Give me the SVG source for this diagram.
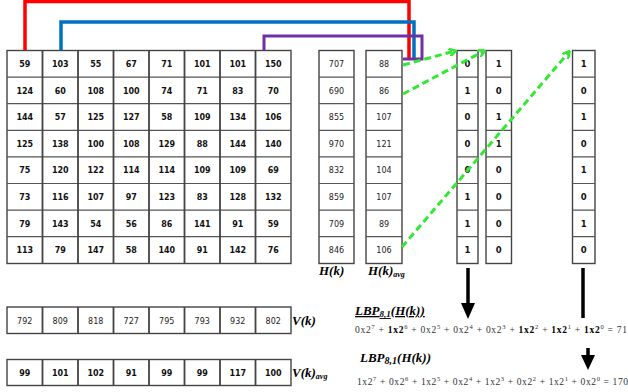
<svg xmlns="http://www.w3.org/2000/svg" width="628" height="392" viewBox="0 0 628 392">
<style>
.cell{fill:#fff;stroke:#444;stroke-width:1.4}
.n{font-family:"DejaVu Sans",sans-serif;font-size:8px;font-weight:bold;text-anchor:middle;fill:#111}
.h{font-family:"DejaVu Sans",sans-serif;font-size:8px;text-anchor:middle;fill:#222}
.b{font-family:"DejaVu Sans",sans-serif;font-size:8.5px;font-weight:bold;text-anchor:middle;fill:#111}
.lbl{font-family:"Liberation Serif",serif;font-style:italic;font-weight:bold;font-size:13px;fill:#000}
.f{font-family:"Liberation Serif",serif;font-size:9.5px;fill:#333}
.bold{font-weight:bold;fill:#000}
.sup{font-size:6.5px}
.grn{fill:none;stroke:#33e833;stroke-width:3;stroke-dasharray:7,4}
.blk{stroke:#000;stroke-width:3.5}
</style>
<defs>
<marker id="ga" markerWidth="8" markerHeight="8" refX="6" refY="4" orient="auto" markerUnits="userSpaceOnUse" viewBox="0 0 8 8">
<path d="M0,0 L7,4 L0,8" fill="none" stroke="#33e833" stroke-width="2.5"/>
</marker>
</defs>

<g id="grid">
<rect class="cell" x="7" y="50.5" width="284" height="213"/>
<path d="M7,77.1H291M7,103.7H291M7,130.3H291M7,156.9H291M7,183.5H291M7,210.1H291M7,236.7H291" stroke="#555" stroke-width="1.2"/>
<path d="M42.5,50.5V263.5M78,50.5V263.5M113.5,50.5V263.5M149,50.5V263.5M184.5,50.5V263.5M220,50.5V263.5M255.5,50.5V263.5" stroke="#444" stroke-width="1.8"/>
<g class="n">
<text x="24.75" y="67">59</text><text x="60.25" y="67">103</text><text x="95.75" y="67">55</text><text x="131.25" y="67">67</text><text x="166.75" y="67">71</text><text x="202.25" y="67">101</text><text x="237.75" y="67">101</text><text x="273.25" y="67">150</text>
<text x="24.75" y="93.6">124</text><text x="60.25" y="93.6">60</text><text x="95.75" y="93.6">108</text><text x="131.25" y="93.6">100</text><text x="166.75" y="93.6">74</text><text x="202.25" y="93.6">71</text><text x="237.75" y="93.6">83</text><text x="273.25" y="93.6">70</text>
<text x="24.75" y="120.2">144</text><text x="60.25" y="120.2">57</text><text x="95.75" y="120.2">125</text><text x="131.25" y="120.2">127</text><text x="166.75" y="120.2">58</text><text x="202.25" y="120.2">109</text><text x="237.75" y="120.2">134</text><text x="273.25" y="120.2">106</text>
<text x="24.75" y="146.8">125</text><text x="60.25" y="146.8">138</text><text x="95.75" y="146.8">100</text><text x="131.25" y="146.8">108</text><text x="166.75" y="146.8">129</text><text x="202.25" y="146.8">88</text><text x="237.75" y="146.8">144</text><text x="273.25" y="146.8">140</text>
<text x="24.75" y="173.4">75</text><text x="60.25" y="173.4">120</text><text x="95.75" y="173.4">122</text><text x="131.25" y="173.4">114</text><text x="166.75" y="173.4">114</text><text x="202.25" y="173.4">109</text><text x="237.75" y="173.4">109</text><text x="273.25" y="173.4">69</text>
<text x="24.75" y="200">73</text><text x="60.25" y="200">116</text><text x="95.75" y="200">107</text><text x="131.25" y="200">97</text><text x="166.75" y="200">123</text><text x="202.25" y="200">83</text><text x="237.75" y="200">128</text><text x="273.25" y="200">132</text>
<text x="24.75" y="226.6">79</text><text x="60.25" y="226.6">143</text><text x="95.75" y="226.6">54</text><text x="131.25" y="226.6">56</text><text x="166.75" y="226.6">86</text><text x="202.25" y="226.6">141</text><text x="237.75" y="226.6">91</text><text x="273.25" y="226.6">59</text>
<text x="24.75" y="253.2">113</text><text x="60.25" y="253.2">79</text><text x="95.75" y="253.2">147</text><text x="131.25" y="253.2">58</text><text x="166.75" y="253.2">140</text><text x="202.25" y="253.2">91</text><text x="237.75" y="253.2">142</text><text x="273.25" y="253.2">76</text>
</g>
</g>

<g id="hk">
<rect class="cell" x="319" y="50.5" width="35" height="213"/>
<path d="M319,77.1h35M319,103.7h35M319,130.3h35M319,156.9h35M319,183.5h35M319,210.1h35M319,236.7h35" stroke="#555" stroke-width="1.2"/>
<g class="h">
<text x="336.5" y="67">707</text><text x="336.5" y="93.6">690</text><text x="336.5" y="120.2">855</text><text x="336.5" y="146.8">970</text><text x="336.5" y="173.4">832</text><text x="336.5" y="200">859</text><text x="336.5" y="226.6">709</text><text x="336.5" y="253.2">846</text>
</g>
<text class="lbl" x="319" y="275">H(k)</text>
</g>

<g id="hkavg">
<rect class="cell" x="366" y="50.5" width="36" height="213"/>
<path d="M366,77.1h36M366,103.7h36M366,130.3h36M366,156.9h36M366,183.5h36M366,210.1h36M366,236.7h36" stroke="#555" stroke-width="1.2"/>
<g class="h">
<text x="384" y="67">88</text><text x="384" y="93.6">86</text><text x="384" y="120.2">107</text><text x="384" y="146.8">121</text><text x="384" y="173.4">104</text><text x="384" y="200">107</text><text x="384" y="226.6">89</text><text x="384" y="253.2">106</text>
</g>
<text class="lbl" x="368" y="275">H(k)<tspan font-size="8" dy="2">avg</tspan></text>
</g>

<g id="bin1">
<rect class="cell" x="457" y="50.5" width="21" height="213"/>
<path d="M457,77.1h21M457,103.7h21M457,130.3h21M457,156.9h21M457,183.5h21M457,210.1h21M457,236.7h21" stroke="#555" stroke-width="1.2"/>
<g class="b">
<text x="467.5" y="67">0</text><text x="467.5" y="93.6">1</text><text x="467.5" y="120.2">0</text><text x="467.5" y="146.8">0</text><text x="467.5" y="173.4">0</text><text x="467.5" y="200">1</text><text x="467.5" y="226.6">1</text><text x="467.5" y="253.2">1</text>
</g>
</g>

<g id="bin2">
<rect class="cell" x="486" y="50.5" width="25.5" height="213"/>
<path d="M486,77.1h25.5M486,103.7h25.5M486,130.3h25.5M486,156.9h25.5M486,183.5h25.5M486,210.1h25.5M486,236.7h25.5" stroke="#555" stroke-width="1.2"/>
<g class="b">
<text x="498.75" y="67">1</text><text x="498.75" y="93.6">0</text><text x="498.75" y="120.2">1</text><text x="498.75" y="146.8">1</text><text x="498.75" y="173.4">0</text><text x="498.75" y="200">0</text><text x="498.75" y="226.6">0</text><text x="498.75" y="253.2">0</text>
</g>
</g>

<g id="bin3">
<rect class="cell" x="572.5" y="50.5" width="22.5" height="213"/>
<path d="M572.5,77.1h22.5M572.5,103.7h22.5M572.5,130.3h22.5M572.5,156.9h22.5M572.5,183.5h22.5M572.5,210.1h22.5M572.5,236.7h22.5" stroke="#555" stroke-width="1.2"/>
<g class="b">
<text x="583.75" y="67">1</text><text x="583.75" y="93.6">0</text><text x="583.75" y="120.2">1</text><text x="583.75" y="146.8">0</text><text x="583.75" y="173.4">1</text><text x="583.75" y="200">0</text><text x="583.75" y="226.6">1</text><text x="583.75" y="253.2">0</text>
</g>
</g>

<g id="vk">
<rect class="cell" x="7" y="307" width="284" height="26.5"/>
<path d="M42.5,307v26.5M78,307v26.5M113.5,307v26.5M149,307v26.5M184.5,307v26.5M220,307v26.5M255.5,307v26.5" stroke="#444" stroke-width="1.8"/>
<g class="h">
<text x="24.75" y="323.5">792</text><text x="60.25" y="323.5">809</text><text x="95.75" y="323.5">818</text><text x="131.25" y="323.5">727</text><text x="166.75" y="323.5">795</text><text x="202.25" y="323.5">793</text><text x="237.75" y="323.5">932</text><text x="273.25" y="323.5">802</text>
</g>
<text class="lbl" x="292" y="325">V(k)</text>
</g>

<g id="vkavg">
<rect class="cell" x="7" y="359.5" width="284" height="26"/>
<path d="M42.5,359.5v26M78,359.5v26M113.5,359.5v26M149,359.5v26M184.5,359.5v26M220,359.5v26M255.5,359.5v26" stroke="#444" stroke-width="1.8"/>
<g class="n">
<text x="24.75" y="375.5">99</text><text x="60.25" y="375.5">101</text><text x="95.75" y="375.5">102</text><text x="131.25" y="375.5">91</text><text x="166.75" y="375.5">99</text><text x="202.25" y="375.5">99</text><text x="237.75" y="375.5">117</text><text x="273.25" y="375.5">100</text>
</g>
<text class="lbl" x="292" y="377">V(k)<tspan font-size="8" dy="2">avg</tspan></text>
</g>

<g id="lbp1">
<text class="lbl" x="355" y="315" text-decoration="underline">LBP<tspan font-size="9" dy="2">8,1</tspan><tspan dy="-2">(H(k))</tspan></text>
<text class="f" x="355" y="333" textLength="272" lengthAdjust="spacing">0x2<tspan class="sup" dy="-4">7</tspan><tspan dy="4"> + </tspan><tspan class="bold">1x2</tspan><tspan class="sup" dy="-4">6</tspan><tspan dy="4"> + 0x2</tspan><tspan class="sup" dy="-4">5</tspan><tspan dy="4"> + 0x2</tspan><tspan class="sup" dy="-4">4</tspan><tspan dy="4"> + 0x2</tspan><tspan class="sup" dy="-4">3</tspan><tspan dy="4"> + </tspan><tspan class="bold">1x2</tspan><tspan class="sup" dy="-4">2</tspan><tspan dy="4"> + </tspan><tspan class="bold">1x2</tspan><tspan class="sup" dy="-4">1</tspan><tspan dy="4"> + </tspan><tspan class="bold">1x2</tspan><tspan class="sup" dy="-4">0</tspan><tspan dy="4"> = 71</tspan></text>
</g>

<g id="lbp2">
<text class="lbl" x="360" y="362" font-size="15">LBP<tspan font-size="10" dy="2">8,1</tspan><tspan dy="-2">(H(k))</tspan></text>
<text class="f" x="357" y="385" textLength="271" lengthAdjust="spacing">1x2<tspan class="sup" dy="-4">7</tspan><tspan dy="4"> + 0x2</tspan><tspan class="sup" dy="-4">6</tspan><tspan dy="4"> + 1x2</tspan><tspan class="sup" dy="-4">5</tspan><tspan dy="4"> + 0x2</tspan><tspan class="sup" dy="-4">4</tspan><tspan dy="4"> + 1x2</tspan><tspan class="sup" dy="-4">3</tspan><tspan dy="4"> + 0x2</tspan><tspan class="sup" dy="-4">2</tspan><tspan dy="4"> + 1x2</tspan><tspan class="sup" dy="-4">1</tspan><tspan dy="4"> + 0x2</tspan><tspan class="sup" dy="-4">0</tspan><tspan dy="4"> = 170</tspan></text>
</g>

<g id="connectors">
<polyline points="25,50 25,1.5 409,1.5 409,58" fill="none" stroke="#ff0000" stroke-width="3.5"/>
<polyline points="61,50 61,22 414,22 414,58" fill="none" stroke="#0070c0" stroke-width="3.5"/>
<polyline points="264,50 264,36 422,36 422,59 403,59" fill="none" stroke="#7030a0" stroke-width="3"/>
<line class="grn" x1="403" y1="65" x2="455" y2="51" marker-end="url(#ga)"/>
<line class="grn" x1="403" y1="94" x2="484" y2="51" marker-end="url(#ga)"/>
<line class="grn" x1="402" y1="247" x2="569" y2="52" marker-end="url(#ga)"/>
<line class="blk" x1="468" y1="268" x2="468" y2="304"/>
<path d="M461,303 L475,303 L468,319 Z" fill="#000"/>
<line class="blk" x1="583" y1="268" x2="583" y2="318"/>
<line class="blk" x1="588" y1="348" x2="588" y2="356"/>
<path d="M581,355 L595,355 L588,370 Z" fill="#000"/>
</g>
</svg>
